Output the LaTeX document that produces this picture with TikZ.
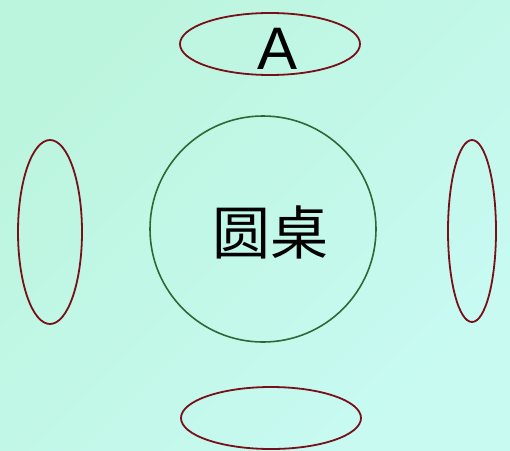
\documentclass[tikz,border=0pt]{standalone}
\usepackage{fontspec}
\setmainfont{Liberation Sans}
\newfontfamily\cjk{Noto Sans CJK SC}
\definecolor{seatred}{RGB}{120,15,25}
\definecolor{tablegreen}{RGB}{45,105,55}
\definecolor{bgA}{RGB}{188,245,222}
\definecolor{bgB}{RGB}{200,250,242}
\tikzset{
  seat/.style={draw=seatred, line width=1.8pt},
  tablecirc/.style={draw=tablegreen, line width=1.6pt},
}
\begin{document}
\begin{tikzpicture}[x=1pt,y=-1pt]
\shade[left color=bgA, right color=bgB, shading angle=45] (0,0) rectangle (510,450);
\useasboundingbox (0,0) rectangle (510,450);
\draw[tablecirc] (263,229) circle (113);
\node[font=\cjk\fontsize{58}{60}\selectfont, inner sep=0pt] (table) at (270,232) {圆桌};
\draw[seat] (270,44) ellipse (90 and 31);
\node[font=\fontsize{60}{62}\selectfont, inner sep=0pt] (A) at (278,49) {A};
\draw[seat] (50,232) ellipse (32 and 92);
\draw[seat] (472,231) ellipse (24 and 91);
\draw[seat] (271,418) ellipse (90 and 31);
\end{tikzpicture}
\end{document}
